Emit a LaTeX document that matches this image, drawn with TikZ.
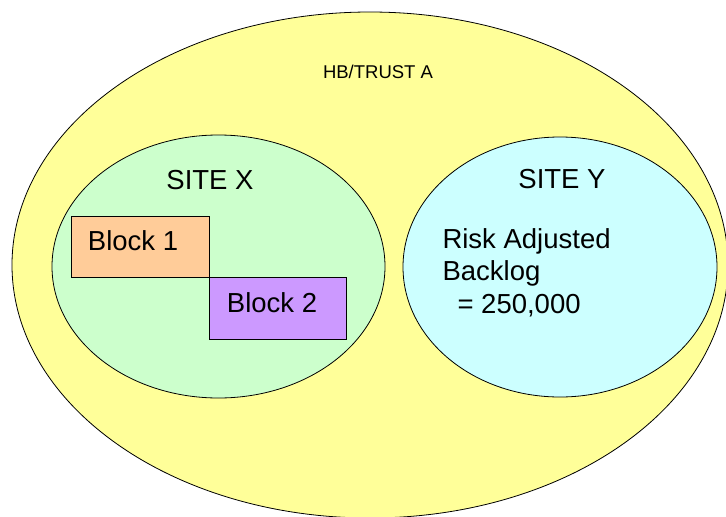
\documentclass[tikz,border=0pt]{standalone}
\usepackage{fontspec}
\setmainfont{Liberation Sans}
\usetikzlibrary{shapes.geometric,positioning}
\definecolor{trustyellow}{RGB}{255,255,153}
\definecolor{sitegreen}{RGB}{204,255,204}
\definecolor{sitecyan}{RGB}{204,255,255}
\definecolor{blockorange}{RGB}{255,204,153}
\definecolor{blockpurple}{RGB}{204,153,255}

\tikzset{
    area/.style={ellipse, draw=black, line width=0.8pt, inner sep=0pt},
    blockbox/.style={rectangle, draw=black, line width=0.8pt, inner sep=0pt},
    bigtext/.style={font=\fontsize{27.5}{32.5}\selectfont},
}

\begin{document}
\begin{tikzpicture}[x=1pt, y=-1pt]
    \useasboundingbox (0,0) rectangle (726,517);

    % trust
    \node[area, fill=trustyellow, minimum width=716pt, minimum height=506pt] (trust) at (370,265) {};
    \node[font=\fontsize{18.5}{22}\selectfont, anchor=base] (trustlabel) at (378,78) {HB/TRUST A};

    % site X with its blocks
    \node[area, fill=sitegreen, minimum width=333pt, minimum height=263pt] (siteX) at (218.5,266.5) {};
    \node[bigtext, anchor=base] (siteXlabel) at (210,189) {SITE X};
    \node[blockbox, fill=blockorange, minimum width=138pt, minimum height=61pt] (block1) at (140,246.5) {};
    \node[blockbox, fill=blockpurple, minimum width=137pt, minimum height=62pt, anchor=north west] (block2) at (block1.south east) {};
    \node[bigtext, anchor=base] (block1label) at (133,250) {Block 1};
    \node[bigtext, anchor=base] (block2label) at (272,312) {Block 2};

    % site Y
    \node[area, fill=sitecyan, minimum width=314pt, minimum height=260pt] (siteY) at (560,267) {};
    \node[bigtext, anchor=base] (siteYlabel) at (562,188) {SITE Y};
    \node[bigtext, align=left, anchor=base west] (backlog) at (439,313) {Risk Adjusted\\Backlog\\\hspace*{15pt}= 250,000};
\end{tikzpicture}
\end{document}
